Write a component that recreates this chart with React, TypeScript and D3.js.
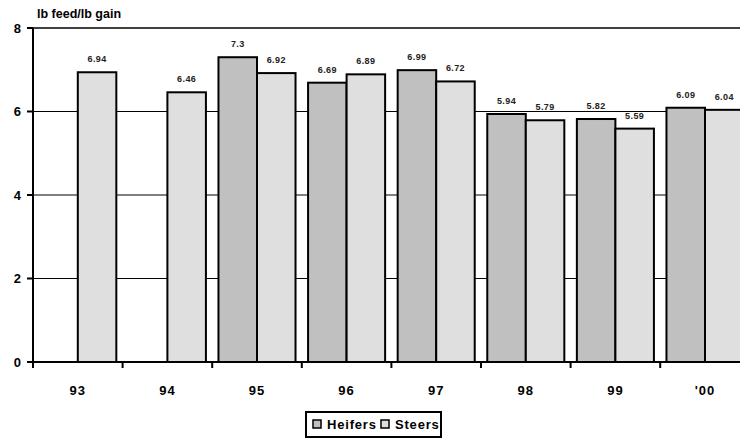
import React from "react";
import * as d3 from "d3";

const categories = ["93", "94", "95", "96", "97", "98", "99", "'00"];
const heifers: (number | null)[] = [null, null, 7.3, 6.69, 6.99, 5.94, 5.82, 6.09];
const steers: (number | null)[] = [6.94, 6.46, 6.92, 6.89, 6.72, 5.79, 5.59, 6.04];
const yTicks = [0, 2, 4, 6, 8];
const seriesNames = ["Heifers", "Steers"];
const colors = ["#c0c0c0", "#dfdfdf"];

const W = 740, H = 439;
const left = 33, right = 33 + 8 * 89.6, top = 28, bottom = 362;

export default function App() {
  const x = d3.scaleBand<string>().domain(categories).range([left, right]).paddingInner(0).paddingOuter(0);
  const y = d3.scaleLinear().domain([0, 8]).range([bottom, top]);
  const bw = x.bandwidth();
  const barW = bw * 0.43;
  const gap = (bw - 2 * barW) / 2;
  const font = "Arial, 'Liberation Sans', sans-serif";
  const series = [heifers, steers];
  return (
    <svg width={W} height={H} style={{ position: "absolute", left: 0, top: 0 }} fontFamily={font}>
      <rect width={W} height={H} fill="#fff" />
      <text x={37} y={18} fontSize={12.5} fontWeight="bold">lb feed/lb gain</text>
      {yTicks.filter(t => t > 0).map(t => (
        <line key={t} x1={left} x2={right} y1={y(t)} y2={y(t)} stroke="#000" strokeWidth={t === 8 ? 1.5 : 1} />
      ))}
      {series.map((s, si) =>
        s.map((v, i) => v == null ? null : (
          <g key={`${si}-${i}`}>
            <rect x={x(categories[i])! + gap + si * barW} y={y(v)} width={barW} height={y(0) - y(v)}
              fill={colors[si]} stroke="#000" strokeWidth={2} />
            <text x={x(categories[i])! + gap + si * barW + barW / 2} y={y(v) - 10} textAnchor="middle"
              fontSize={9} fontWeight="bold" fill="#222" letterSpacing={0.4}>{v}</text>
          </g>
        ))
      )}
      <line x1={left} x2={left} y1={top} y2={bottom} stroke="#000" strokeWidth={2} />
      <line x1={left - 6} x2={right} y1={bottom} y2={bottom} stroke="#000" strokeWidth={2} />
      {yTicks.map(t => (
        <g key={t}>
          <line x1={left - 6} x2={left} y1={y(t)} y2={y(t)} stroke="#000" strokeWidth={2} />
          <text x={21} y={y(t) + 4.5} textAnchor="end" fontSize={13} fontWeight="bold">{t}</text>
        </g>
      ))}
      {categories.map((c) => (
        <g key={c}>
          <line x1={x(c)!} x2={x(c)!} y1={bottom} y2={bottom + 6} stroke="#000" strokeWidth={2} />
          <text x={x(c)! + bw / 2} y={395} textAnchor="middle" fontSize={13} fontWeight="bold"
            letterSpacing={1}>{c}</text>
        </g>
      ))}
      <rect x={306} y={412} width={135} height={25} fill="#fff" stroke="#000" strokeWidth={2} />
      {seriesNames.map((n, i) => (
        <g key={n}>
          <rect x={313 + i * 68} y={420} width={8} height={8} fill={colors[i]} stroke="#000" strokeWidth={1.5} />
          <text x={327 + i * 68} y={429} fontSize={13} fontWeight="bold" letterSpacing={0.8}>{n}</text>
        </g>
      ))}
    </svg>
  );
}
